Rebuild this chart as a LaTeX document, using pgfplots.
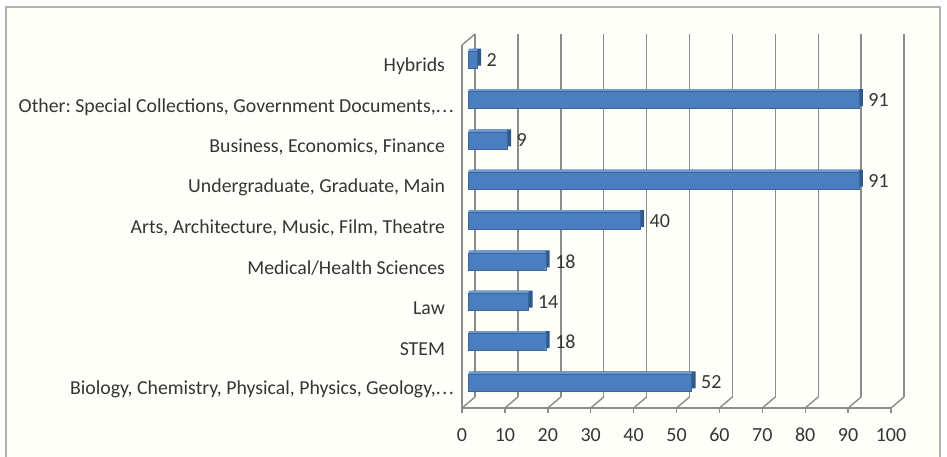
\documentclass[border=0pt]{standalone}
\usepackage{pgfplots}
\pgfplotsset{compat=1.18}
\usepackage{fontspec}
\setmainfont{Carlito}
\frenchspacing
\definecolor{barblue}{HTML}{4A7EBE}
\definecolor{bartop}{HTML}{6F9AD0}
\definecolor{barside}{HTML}{2E5A8F}
\definecolor{gridgray}{HTML}{8C8C8C}
\definecolor{txt}{HTML}{353535}
\newcommand{\dd}{.\kern0.08em.\kern0.08em.\kern-9pt}
\pgfplotsset{
  common/.style={
    anchor=south west, scale only axis, width=429pt, height=363pt,
    xmin=0, xmax=100, ymin=-0.5, ymax=8.5,
  }
}
\begin{document}
\begin{tikzpicture}[x=1pt,y=1pt]
\useasboundingbox (0,0) rectangle (947,456);
\fill[white] (0,0) rectangle (947,456);
\fill[white!98!yellow] (6,-2) rectangle (940,449);
\draw[gray!60, line width=1.2pt] (6,-4) rectangle (940,449);
% back wall gridlines
\begin{axis}[common, at={(475pt,59pt)},
  axis line style={draw=none}, tick style={draw=none},
  xtick={0,10,...,100}, xticklabels={}, ytick=\empty,
  xmajorgrids, grid style={gridgray, line width=1.4pt}]
\end{axis}
% floor and left wall
\begin{axis}[common, at={(462pt,48pt)},
  axis x line*=bottom, axis y line*=left,
  axis line style={gridgray, line width=1.4pt, -},
  xtick={0,10,...,100},
  x tick style={gridgray, line width=1.4pt},
  xtick align=outside, major tick length=4.5pt,
  ytick={0,...,8}, y tick style={draw=none},
  minor ytick={-0.5,0.5,...,8.5},
  minor y tick style={gridgray, line width=1.4pt},
  minor tick length=5pt, ytick align=outside,
  yticklabels={{Biology, Chemistry, Physical, Physics, Geology,\dd},STEM,Law,Medical/Health Sciences,{Arts, Architecture, Music, Film, Theatre},{Undergraduate, Graduate, Main},{Business, Economics, Finance},{Other: Special Collections, Government Documents,\dd},Hybrids},
  yticklabel style={font=\fontsize{19.8}{24}\selectfont, text=txt, xshift=-9pt, yshift=-1.5pt},
  xticklabel style={font=\fontsize{20}{24}\selectfont, text=txt, yshift=-18pt, text height=1.6ex, text depth=0.2ex},
  /pgf/number format/assume math mode=true,
  clip=false]
\pgfplotsinvokeforeach{0,10,...,100}{
  \draw[gridgray, line width=1.4pt] (axis cs:#1,-0.5) -- ++(13pt,11pt);
}
\draw[gridgray, line width=1.4pt] (axis cs:0,8.5) -- ++(13pt,11pt);
\end{axis}
% bars
\begin{axis}[common, at={(468.5pt,53.5pt)}, hide axis, clip=false]
\addplot[xbar, bar width=17pt, fill=barside, draw=none, xshift=4pt, yshift=2.5pt] coordinates {
(52,0) (18,1) (14,2) (18,3) (40,4) (91,5) (9,6) (91,7) (2,8)};
\addplot[xbar, bar width=17pt, fill=bartop, draw=none, yshift=2.5pt] coordinates {
(52,0) (18,1) (14,2) (18,3) (40,4) (91,5) (9,6) (91,7) (2,8)};
\addplot[xbar, bar width=17pt, fill=barblue, draw=barblue!80!black, line width=0.4pt,
  nodes near coords, point meta=x,
  every node near coord/.append style={font=\fontsize{20}{24}\selectfont, text=txt, anchor=west, xshift=6pt},
  /pgf/number format/assume math mode=true] coordinates {
(52,0) (18,1) (14,2) (18,3) (40,4) (91,5) (9,6) (91,7) (2,8)};
\end{axis}
\end{tikzpicture}
\end{document}
